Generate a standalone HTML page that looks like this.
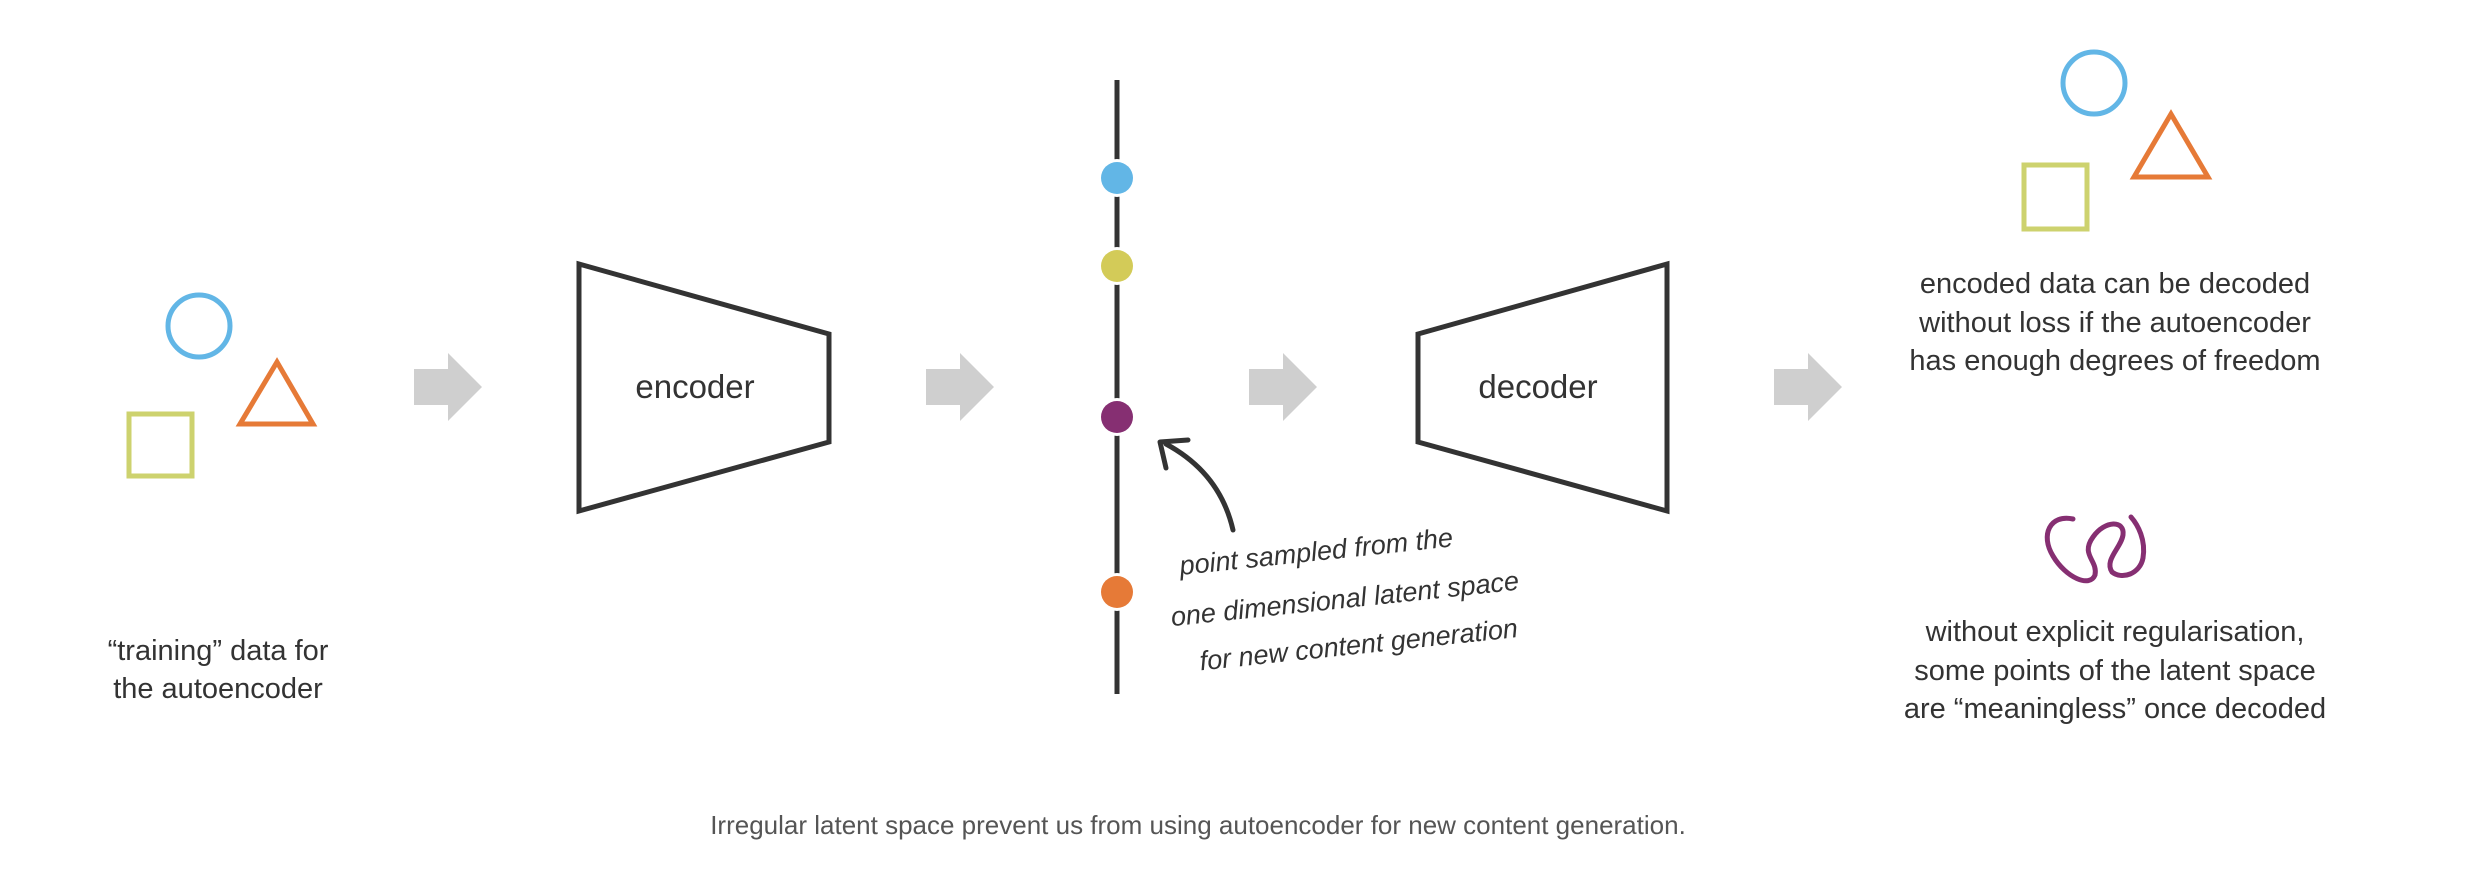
<!DOCTYPE html>
<html><head><meta charset="utf-8"><style>
html,body{margin:0;padding:0;background:#fff;}
body{width:2482px;height:874px;position:relative;overflow:hidden;}
svg{position:absolute;left:0;top:0;}
</style></head><body>
<svg width="2482" height="874" viewBox="0 0 2482 874" xmlns="http://www.w3.org/2000/svg">
<defs>
<polygon id="arr" points="0,-18 34,-18 34,-34 68,0 34,34 34,18 0,18" fill="#cfcfcf"/>
</defs>
<!-- left shapes -->
<circle cx="199" cy="326" r="31" fill="none" stroke="#62b6e6" stroke-width="5"/>
<polygon points="277,362 240,424 313,424" fill="none" stroke="#e67a37" stroke-width="5"/>
<rect x="129" y="414" width="63" height="62" fill="none" stroke="#cdd26e" stroke-width="5"/>
<text x="218" y="660" font-family="Liberation Sans Narrow, Liberation Sans, sans-serif" font-size="29" fill="#333" text-anchor="middle">“training” data for</text>
<text x="218" y="698" font-family="Liberation Sans Narrow, Liberation Sans, sans-serif" font-size="29" fill="#333" text-anchor="middle">the autoencoder</text>
<!-- arrows -->
<use href="#arr" x="414" y="387"/>
<use href="#arr" x="926" y="387"/>
<use href="#arr" x="1249" y="387"/>
<use href="#arr" x="1774" y="387"/>
<!-- encoder -->
<polygon points="579,264 829,334 829,442 579,511" fill="none" stroke="#333" stroke-width="5"/>
<text x="695" y="398" font-family="Liberation Sans Narrow, Liberation Sans, sans-serif" font-size="33" fill="#333" text-anchor="middle">encoder</text>
<!-- decoder -->
<polygon points="1418,334 1667,264 1667,511 1418,442" fill="none" stroke="#333" stroke-width="5"/>
<text x="1538" y="398" font-family="Liberation Sans Narrow, Liberation Sans, sans-serif" font-size="33" fill="#333" text-anchor="middle">decoder</text>
<!-- latent line -->
<line x1="1117" y1="80" x2="1117" y2="694" stroke="#333" stroke-width="5"/>
<circle cx="1117" cy="178" r="19" fill="#fff"/><circle cx="1117" cy="178" r="16" fill="#62b6e6"/>
<circle cx="1117" cy="266" r="19" fill="#fff"/><circle cx="1117" cy="266" r="16" fill="#d3cb58"/>
<circle cx="1117" cy="417" r="19" fill="#fff"/><circle cx="1117" cy="417" r="16" fill="#862f72"/>
<circle cx="1117" cy="592" r="19" fill="#fff"/><circle cx="1117" cy="592" r="16" fill="#e67a37"/>
<!-- curved arrow -->
<path d="M1233,530 C1225,495 1205,465 1166,444" fill="none" stroke="#333" stroke-width="5" stroke-linecap="round"/>
<path d="M1166,468 L1160,442 L1188,440" fill="none" stroke="#333" stroke-width="5" stroke-linecap="round" stroke-linejoin="round"/>
<g font-family="Liberation Sans, sans-serif" font-style="italic" font-size="27" fill="#333" transform="rotate(-6 1180 570)">
<text x="1180" y="575">point sampled from the</text>
<text x="1166" y="625">one dimensional latent space</text>
<text x="1190" y="672">for new content generation</text>
</g>
<!-- right shapes -->
<circle cx="2094" cy="83" r="31" fill="none" stroke="#62b6e6" stroke-width="5"/>
<polygon points="2171,114 2134,177 2208,177" fill="none" stroke="#e67a37" stroke-width="5"/>
<rect x="2024" y="165" width="63" height="64" fill="none" stroke="#cdd26e" stroke-width="5"/>
<g font-family="Liberation Sans Narrow, Liberation Sans, sans-serif" font-size="29" fill="#333" text-anchor="middle">
<text x="2115" y="293">encoded data can be decoded</text>
<text x="2115" y="332">without loss if the autoencoder</text>
<text x="2115" y="370">has enough degrees of freedom</text>
<text x="2115" y="641">without explicit regularisation,</text>
<text x="2115" y="680">some points of the latent space</text>
<text x="2115" y="718">are “meaningless” once decoded</text>
</g>
<!-- squiggle -->
<path d="M2073,519 C2050,514 2040,535 2053,556 C2066,578 2090,588 2095,575 C2098,560 2080,555 2093,537 C2105,520 2125,520 2123,535 C2121,548 2104,560 2112,572 C2122,580 2140,574 2143,558 C2146,540 2138,525 2131,517" fill="none" stroke="#862f72" stroke-width="5" stroke-linecap="round"/>
<!-- caption -->
<text x="1198" y="834" font-family="Liberation Sans Narrow, Liberation Sans, sans-serif" font-size="26" fill="#555" text-anchor="middle">Irregular latent space prevent us from using autoencoder for new content generation.</text>
</svg>
</body></html>
